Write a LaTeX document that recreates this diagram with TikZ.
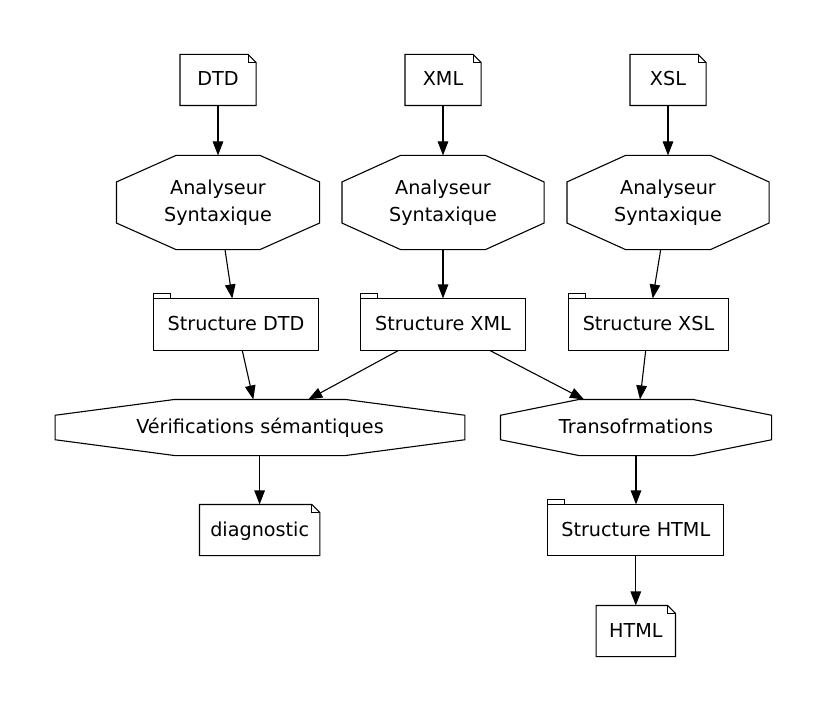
\documentclass[tikz,border=0pt]{standalone}
\usepackage{fontspec}
\setmainfont{DejaVu Sans}
\usetikzlibrary{arrows.meta}
\begin{document}
\begin{tikzpicture}[x=1bp,y=-1bp,line width=1.1bp,
  every node/.style={inner sep=0pt,font=\fontsize{19.2bp}{24.3bp}\selectfont,align=center},
  box/.style={minimum height=50bp,text height=12bp,text depth=0pt},
  arr/.style={-{Triangle[length=14bp,width=10.5bp]}},
  notebox/.style={box},
  tabbox/.style={box},
  twoline/.style={minimum height=93bp}
]
\fill[white] (0,0) rectangle (826,711);
\useasboundingbox (0,0) rectangle (826,711);
% notes
\node[notebox,minimum width=75bp] (dtd) at (218,80) {DTD};
\node[notebox,minimum width=75bp] (xml) at (443,80) {XML};
\node[notebox,minimum width=75bp] (xsl) at (668,80) {XSL};
\node[notebox,minimum width=119.3bp] (diag) at (259.7,530) {diagnostic};
\node[notebox,minimum width=78.3bp] (html) at (635.8,631) {HTML};
% octagons
\node[twoline,minimum width=202bp] (a1) at (218,202.5) {Analyseur\\[2.3bp]Syntaxique};
\node[twoline,minimum width=201bp] (a2) at (443,202.5) {Analyseur\\[2.3bp]Syntaxique};
\node[twoline,minimum width=201bp] (a3) at (668,202.5) {Analyseur\\[2.3bp]Syntaxique};
\node[box,minimum width=408.6bp,minimum height=55bp] (verif) at (260,427.5) {Vérifications sémantiques};
\node[box,minimum width=270bp,minimum height=55bp] (trans) at (636,427.5) {Transofrmations};
% tab boxes
\node[tabbox,minimum width=164bp,minimum height=51bp] (sdtd) at (236,324.5) {Structure DTD};
\node[tabbox,minimum width=164bp,minimum height=51bp] (sxml) at (443,324.5) {Structure XML};
\node[tabbox,minimum width=158.4bp,minimum height=51bp] (sxsl) at (648.5,324.5) {Structure XSL};
\node[tabbox,minimum width=175bp,minimum height=50bp] (shtml) at (635.8,530) {Structure HTML};
% note outlines
\foreach \n in {dtd,xml,xsl,diag,html}{
  \draw[line join=miter] (\n.north west) -- ([xshift=-8bp]\n.north east) -- ([yshift=-8bp]\n.north east) -- (\n.south east) -- (\n.south west) -- cycle;
  \draw ([xshift=-8bp]\n.north east) -- ([xshift=-8bp,yshift=-8bp]\n.north east) -- ([yshift=-8bp]\n.north east);
}
% tab outlines
\foreach \n in {sdtd,sxml,sxsl,shtml}{
  \draw (\n.north west) rectangle (\n.south east);
  \draw (\n.north west) -- ([yshift=5bp]\n.north west) -- ([xshift=17bp,yshift=5bp]\n.north west) -- ([xshift=17bp]\n.north west);
}
% octagon outlines
\foreach \n/\ix/\iy in {a1/59.5/26.5,a2/58.5/26.5,a3/58.5/26.5,verif/119.5/15.8,trans/78.5/15.8}{
  \draw ([xshift=\ix bp]\n.north west) -- ([xshift=-\ix bp]\n.north east) -- ([yshift=-\iy bp]\n.north east) -- ([yshift=\iy bp]\n.south east) -- ([xshift=-\ix bp]\n.south east) -- ([xshift=\ix bp]\n.south west) -- ([yshift=\iy bp]\n.south west) -- ([yshift=-\iy bp]\n.north west) -- cycle;
}
% edges
\draw[arr] (dtd.south) -- (a1.north);
\draw[arr] (xml.south) -- (a2.north);
\draw[arr] (xsl.south) -- (a3.north);
\draw[arr] ([xshift=7bp]a1.south) -- ([xshift=-3.7bp]sdtd.north);
\draw[arr] (a2.south) -- (sxml.north);
\draw[arr] ([xshift=-7.3bp]a3.south) -- ([xshift=4.2bp]sxsl.north);
\draw[arr] ([xshift=6.3bp]sdtd.south) -- ([xshift=-6.7bp]verif.north);
\draw[arr] ([xshift=-44.7bp]sxml.south) -- ([xshift=48.3bp]verif.north);
\draw[arr] ([xshift=47bp]sxml.south) -- ([xshift=-52bp]trans.north);
\draw[arr] ([xshift=-2.8bp]sxsl.south) -- ([xshift=4bp]trans.north);
\draw[arr] ([xshift=-0.4bp]verif.south) -- ([xshift=-0.4bp]verif.south |- diag.north);
\draw[arr] (trans.south) -- (trans.south |- shtml.north);
\draw[arr] (shtml.south) -- (html.north);
\end{tikzpicture}
\end{document}
